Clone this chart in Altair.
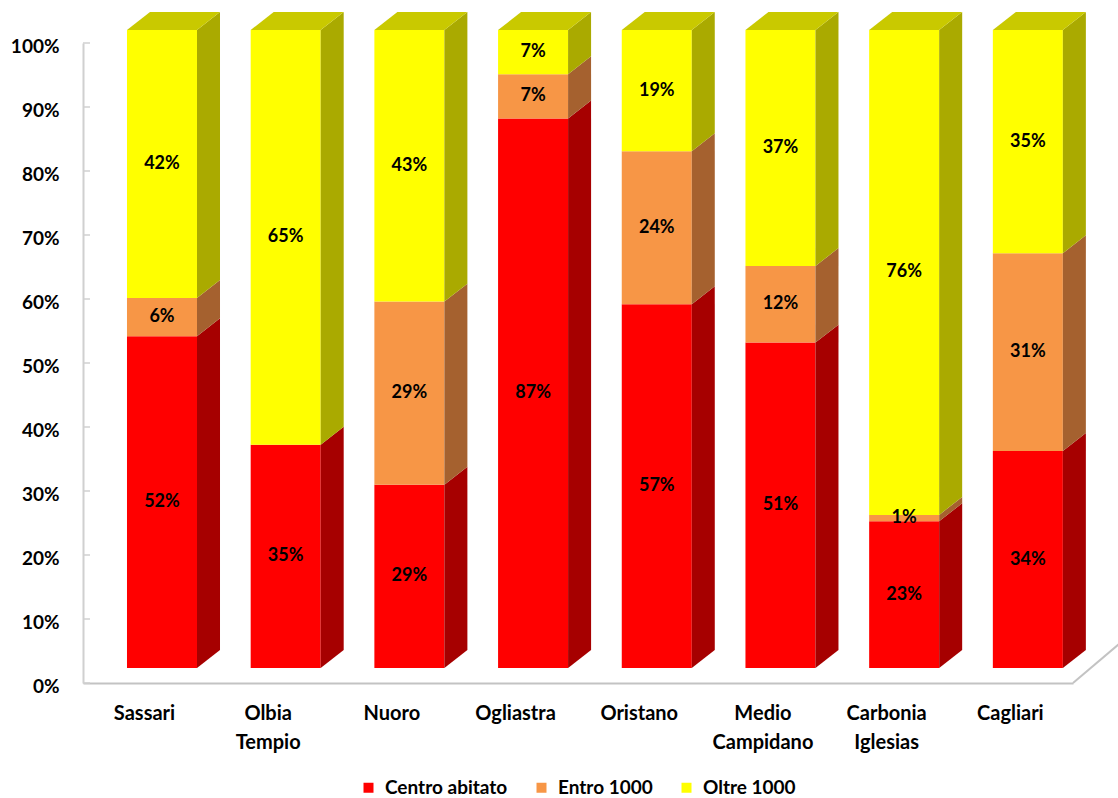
import json
import altair as alt
import pandas as pd

# ---- data ----
categories = ["Sassari", "Olbia Tempio", "Nuoro", "Ogliastra", "Oristano",
              "Medio Campidano", "Carbonia Iglesias", "Cagliari"]
series = ["Centro abitato", "Entro 1000", "Oltre 1000"]
centro = [52, 35, 29, 87, 57, 51, 23, 34]
entro = [6, 0, 29, 7, 24, 12, 1, 31]
oltre = [42, 65, 43, 7, 19, 37, 76, 35]
y_ticks = [0, 0.1, 0.2, 0.3, 0.4, 0.5, 0.6, 0.7, 0.8, 0.9, 1.0]

# ---- style ----
front_colors = ["#FF0000", "#F79646", "#FFFF00"]
side_colors = ["#A60000", "#A5612F", "#AAAA00"]
top_color = "#C9C900"
FONT = "Lato"

HALF = 0.283   # half bar width (x units)
DX = 0.186     # depth offset x (x units)
DY = 0.0282    # depth offset y (y units)

rows, side, top = [], [], []
for i, cat in enumerate(categories):
    vals = [centro[i], entro[i], oltre[i]]
    total = float(sum(vals))
    cum = 0
    for s, v in zip(series, vals):
        y0 = cum / total
        cum += v
        y1 = cum / total
        rows.append(dict(cat=cat, idx=i, series=s, value=v, x1=i - HALF, x2=i + HALF,
                         y0=y0, y1=y1, ym=(y0 + y1) / 2,
                         label=f"{v}%" if v > 0 else ""))
        key = f"{i}-{s}"
        side.append(dict(key=key, series=s, xs=i + HALF, lo=y0, hi=y1))
        side.append(dict(key=key, series=s, xs=i + HALF + DX, lo=y0 + DY, hi=y1 + DY))
    top.append(dict(key=str(i), ty=1.0, tx1=i - HALF, tx2=i + HALF))
    top.append(dict(key=str(i), ty=1.0 + DY, tx1=i - HALF + DX, tx2=i + HALF + DX))

df = pd.DataFrame(rows)
df_side = pd.DataFrame(side)
df_top = pd.DataFrame(top)
df_ticks = pd.DataFrame({"t": y_ticks})

xs = alt.Scale(domain=[-0.6386, 7.365], nice=False, zero=False)
ys = alt.Scale(domain=[-0.02351, 0.97962], nice=False, zero=False)

label_arr = json.dumps([c.split(" ") for c in categories])

x_axis = alt.Axis(
    values=list(range(len(categories))), labelExpr=f"{label_arr}[datum.value]",
    title=None, grid=False, ticks=False, domainColor="#c3c3c3", domainWidth=2,
    labelFont=FONT, labelFontWeight="bold", labelFontSize=20, labelColor="black",
    labelPadding=20, labelOffset=-18, labelLineHeight=29, labelFlush=False,
    labelOverlap=False)

front = alt.Chart(df).mark_rect().encode(
    x=alt.X("x1:Q", scale=xs, axis=x_axis),
    x2="x2:Q",
    y=alt.Y("y0:Q", scale=ys, axis=None),
    y2="y1:Q",
    color=alt.Color("series:N", scale=alt.Scale(domain=series, range=front_colors),
                    legend=alt.Legend(title=None, orient="none", direction="horizontal",
                                      legendX=276, legendY=735, padding=0,
                                      symbolType="square", symbolSize=100,
                                      symbolStrokeWidth=0, columnPadding=24,
                                      labelOffset=7, labelFont=FONT,
                                      labelFontWeight="bold", labelFontSize=19,
                                      labelColor="black")),
)

sides = alt.Chart(df_side).mark_area(interpolate="linear").encode(
    x=alt.X("xs:Q", scale=xs, axis=x_axis),
    y=alt.Y("hi:Q", scale=ys, axis=None, stack=None),
    y2="lo:Q",
    fill=alt.Fill("series:N", scale=alt.Scale(domain=series, range=side_colors), legend=None),
    detail="key:N",
)

tops = alt.Chart(df_top).mark_area(orient="horizontal", color=top_color).encode(
    y=alt.Y("ty:Q", scale=ys, axis=None, stack=None),
    x=alt.X("tx1:Q", scale=xs, axis=x_axis),
    x2="tx2:Q",
    detail="key:N",
)

texts = alt.Chart(df).mark_text(font=FONT, fontWeight="bold", fontSize=18,
                                color="black").encode(
    x=alt.X("idx:Q", scale=xs, axis=x_axis),
    y=alt.Y("ym:Q", scale=ys, axis=None),
    text="label:N",
)

bars = alt.layer(front, sides, tops, texts)

ticks = alt.Chart(df_ticks).mark_rule(color="#d0d0d0", strokeWidth=1.5).encode(
    y=alt.Y("t:Q", scale=alt.Scale(domain=[0, 1], nice=False, zero=False),
            axis=alt.Axis(values=y_ticks, format="%", title=None, grid=False, ticks=False,
                          domainColor="#d0d0d0", domainWidth=2,
                          labelFont=FONT, labelFontWeight="bold", labelFontSize=19,
                          labelColor="black", labelPadding=24, labelOffset=3)),
    x=alt.value(0),
    x2=alt.value(7),
)

floor_diag = alt.Chart(pd.DataFrame({"a": [0]})).mark_rule(
    color="#c3c3c3", strokeWidth=2).encode(
    x=alt.value(990), x2=alt.value(1036), y=alt.value(640), y2=alt.value(601))

chart = alt.layer(ticks, floor_diag, bars).resolve_scale(y="independent").properties(
    width=990, height=640,
    autosize=alt.AutoSizeParams(type="none"),
    padding={"left": 83, "top": 43, "right": 45, "bottom": 115},
    background="white",
).configure_view(stroke=None)

chart.save("out.html", embed_options={"renderer": "svg", "actions": False})
